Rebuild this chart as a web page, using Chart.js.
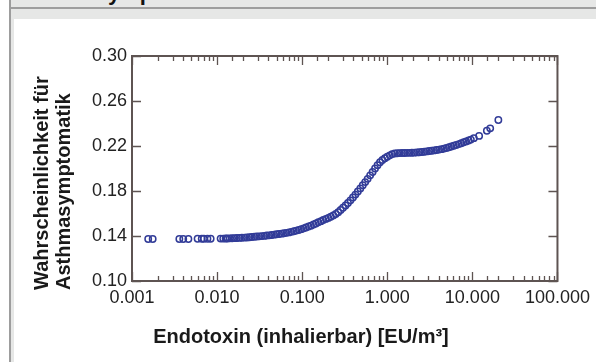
<!DOCTYPE html>
<html>
<head>
<meta charset="utf-8">
<script src="https://cdn.jsdelivr.net/npm/chart.js@4.4.0/dist/chart.umd.min.js"></script>
<style>
    html, body { margin: 0; padding: 0; background: #fff; }
    #frame { position: relative; width: 596px; height: 362px; overflow: hidden; background: #fff; }
    .band { position: absolute; background: #e6e7e6; }
    .rule { position: absolute; background: #9d9d9d; }
    #heading { position: absolute; left: 15px; top: -20px; line-height: 22px; white-space: nowrap;
               font: bold 22px "Liberation Sans", Arial, sans-serif; color: #111; }
    #myChart { position: absolute; left: 0; top: 0; }
</style>
</head>
<body>
<div id="frame">
    <div class="band" style="left:11px; top:0; width:585px; height:19px;"></div>
    <div class="band" style="left:11px; top:0; width:3px; height:362px;"></div>
    <div class="rule" style="left:11px; top:7px; width:585px; height:2px;"></div>
    <div class="rule" style="left:9px; top:0; width:2px; height:362px;"></div>
    <div id="heading">Asthmasymptomatik</div>
    <canvas id="myChart" width="596" height="362"></canvas>
</div>
<script>
// Endotoxin (EU/m3) and probability
const endotoxin = [
    0.00155, 0.00175, 0.0036, 0.0040, 0.0046, 0.0059, 0.0066, 0.0070, 0.0077, 0.0084, 0.0110, 0.0118, 0.0126,
    0.0132, 0.0141, 0.0150, 0.016, 0.0171, 0.0183, 0.0196, 0.021, 0.0224, 0.024, 0.0256, 0.0274, 0.0293,
    0.0313, 0.0335, 0.0358, 0.0383, 0.041, 0.0438, 0.0468, 0.05, 0.0535, 0.0572, 0.0611, 0.0653, 0.0698,
    0.0746, 0.0798, 0.0853, 0.0912, 0.0975, 0.104, 0.111, 0.119, 0.127, 0.136, 0.145, 0.155, 0.166, 0.177,
    0.19, 0.203, 0.217, 0.232, 0.248, 0.265, 0.283, 0.302, 0.323, 0.345, 0.369, 0.395, 0.422, 0.451, 0.482,
    0.515, 0.55, 0.588, 0.629, 0.672, 0.718, 0.768, 0.821, 0.877, 0.938, 1.0, 1.07, 1.14, 1.22, 1.31, 1.4,
    1.49, 1.6, 1.71, 1.82, 1.95, 2.08, 2.23, 2.38, 2.55, 2.72, 2.91, 3.11, 3.32, 3.55, 3.8, 4.06, 4.34,
    4.64, 4.96, 5.3, 5.66, 6.05, 6.47, 6.92, 7.4, 7.91, 8.45, 9.03, 9.6,
    10.4, 12.0, 14.8, 16.2, 20.2
];
const probability = [
    0.1373, 0.1373, 0.1374, 0.1374, 0.1374, 0.1375, 0.1375, 0.1375, 0.1376, 0.1376, 0.1377, 0.1377, 0.1378,
    0.1378, 0.1379, 0.1380, 0.1381, 0.1382, 0.1383, 0.1384, 0.1386, 0.1387, 0.1389, 0.1391, 0.1393, 0.1395,
    0.1397, 0.1399, 0.1401, 0.1404, 0.1406, 0.1409, 0.1412, 0.1415, 0.1418, 0.1421, 0.1424, 0.1428, 0.1432,
    0.1437, 0.1442, 0.1448, 0.1454, 0.1461, 0.1468, 0.1476, 0.1484, 0.1492, 0.1502, 0.1511, 0.1522, 0.1532, 0.1542,
    0.1552, 0.1561, 0.1571, 0.1583, 0.1596, 0.1612, 0.1631, 0.1651, 0.1672, 0.1693, 0.1717, 0.1742, 0.1768, 0.1795, 0.1823,
    0.1851, 0.1879, 0.1908, 0.1939, 0.1969, 0.2000, 0.2030, 0.2055, 0.2076, 0.2092, 0.2105, 0.2117, 0.2128, 0.2134, 0.2136, 0.2137,
    0.2138, 0.2138, 0.2139, 0.2139, 0.2140, 0.2141, 0.2143, 0.2145, 0.2147, 0.2149, 0.2152, 0.2155, 0.2158, 0.2161, 0.2164, 0.2168, 0.2172,
    0.2177, 0.2182, 0.2189, 0.2196, 0.2202, 0.2209, 0.2217, 0.2225, 0.2233, 0.2241, 0.2249, 0.2257,
    0.2270, 0.2290, 0.2336, 0.2357, 0.2431
];

const xTickValues = [0.001, 0.01, 0.1, 1, 10, 100];
const xTickLabels = ['0.001', '0.010', '0.100', '1.000', '10.000', '100.000'];
const yTitleLines = ['Wahrscheinlichkeit für', 'Asthmasymptomatik'];
const xTitle = 'Endotoxin (inhalierbar) [EU/m³]';

const FONT = '"Liberation Sans", Arial, Helvetica, sans-serif';
const AXIS_COLOR = '#5e5452';

function majorIndex(value) {
    return xTickValues.findIndex(v => Math.abs(Math.log10(v) - Math.log10(value)) < 1e-6);
}

// box around the plot with inward ticks on all four sides
const boxPlugin = {
    id: 'box',
    afterDatasetsDraw(chart) {
        const { ctx, chartArea: a, scales: { x, y } } = chart;
        ctx.save();
        ctx.strokeStyle = AXIS_COLOR;
        ctx.lineWidth = 2;
        ctx.strokeRect(a.left, a.top, a.right - a.left, a.bottom - a.top);
        ctx.lineWidth = 1.3;
        ctx.beginPath();
        x.ticks.forEach(t => {
            const px = Math.round(x.getPixelForValue(t.value)) + 0.5;
            const len = majorIndex(t.value) >= 0 ? 9 : 5;
            ctx.moveTo(px, a.bottom); ctx.lineTo(px, a.bottom - len);
            ctx.moveTo(px, a.top); ctx.lineTo(px, a.top + len);
        });
        y.ticks.forEach(t => {
            const py = Math.round(y.getPixelForValue(t.value)) + 0.5;
            ctx.moveTo(a.left, py); ctx.lineTo(a.left + 9, py);
            ctx.moveTo(a.right, py); ctx.lineTo(a.right - 9, py);
        });
        ctx.stroke();
        ctx.restore();
    }
};

// axis titles placed as in the original figure
const titlePlugin = {
    id: 'titles',
    afterDraw(chart) {
        const ctx = chart.ctx;
        ctx.save();
        ctx.fillStyle = '#1a1a1a';
        ctx.font = 'bold 20px ' + FONT;
        ctx.textAlign = 'center';
        ctx.textBaseline = 'alphabetic';
        ctx.fillText(xTitle, 301, 343);

        ctx.textAlign = 'left';
        const baselines = [48, 70];
        yTitleLines.forEach((line, i) => {
            ctx.save();
            ctx.translate(baselines[i], 290);
            ctx.rotate(-Math.PI / 2);
            ctx.fillText(line, 0, 0);
            ctx.restore();
        });
        ctx.restore();
    }
};

const ctx = document.getElementById('myChart').getContext('2d');
const myChart = new Chart(ctx, {
    type: 'scatter',
    data: {
        datasets: [{
            data: endotoxin.map((x, i) => ({ x: x, y: probability[i] })),
            pointStyle: 'circle',
            radius: 3.2,
            borderWidth: 1.5,
            borderColor: '#323c98',
            backgroundColor: 'rgba(0, 0, 0, 0)'
        }]
    },
    options: {
        responsive: false,
        animation: false,
        events: [],
        layout: { padding: { top: 56, right: 35, left: 0, bottom: 0 } },
        plugins: { legend: { display: false }, tooltip: { enabled: false } },
        scales: {
            x: {
                type: 'logarithmic',
                min: 0.001,
                max: 100,
                grid: { display: false, drawTicks: false },
                border: { display: false },
                ticks: {
                    autoSkip: false,
                    maxRotation: 0,
                    padding: 6,
                    color: '#222',
                    font: { size: 18, family: FONT },
                    callback: function(value) {
                        const i = majorIndex(value);
                        return i >= 0 ? xTickLabels[i] : '';
                    }
                },
                afterFit(scale) { scale.height = 81; }
            },
            y: {
                min: 0.1,
                max: 0.3,
                grid: { display: false, drawTicks: false },
                border: { display: false },
                ticks: {
                    stepSize: 0.04,
                    padding: 5,
                    color: '#222',
                    font: { size: 18, family: FONT },
                    callback: function(value) {
                        return value.toFixed(2);
                    }
                },
                afterFit(scale) { scale.width = 132; }
            }
        }
    },
    plugins: [boxPlugin, titlePlugin]
});
</script>
</body>
</html>
